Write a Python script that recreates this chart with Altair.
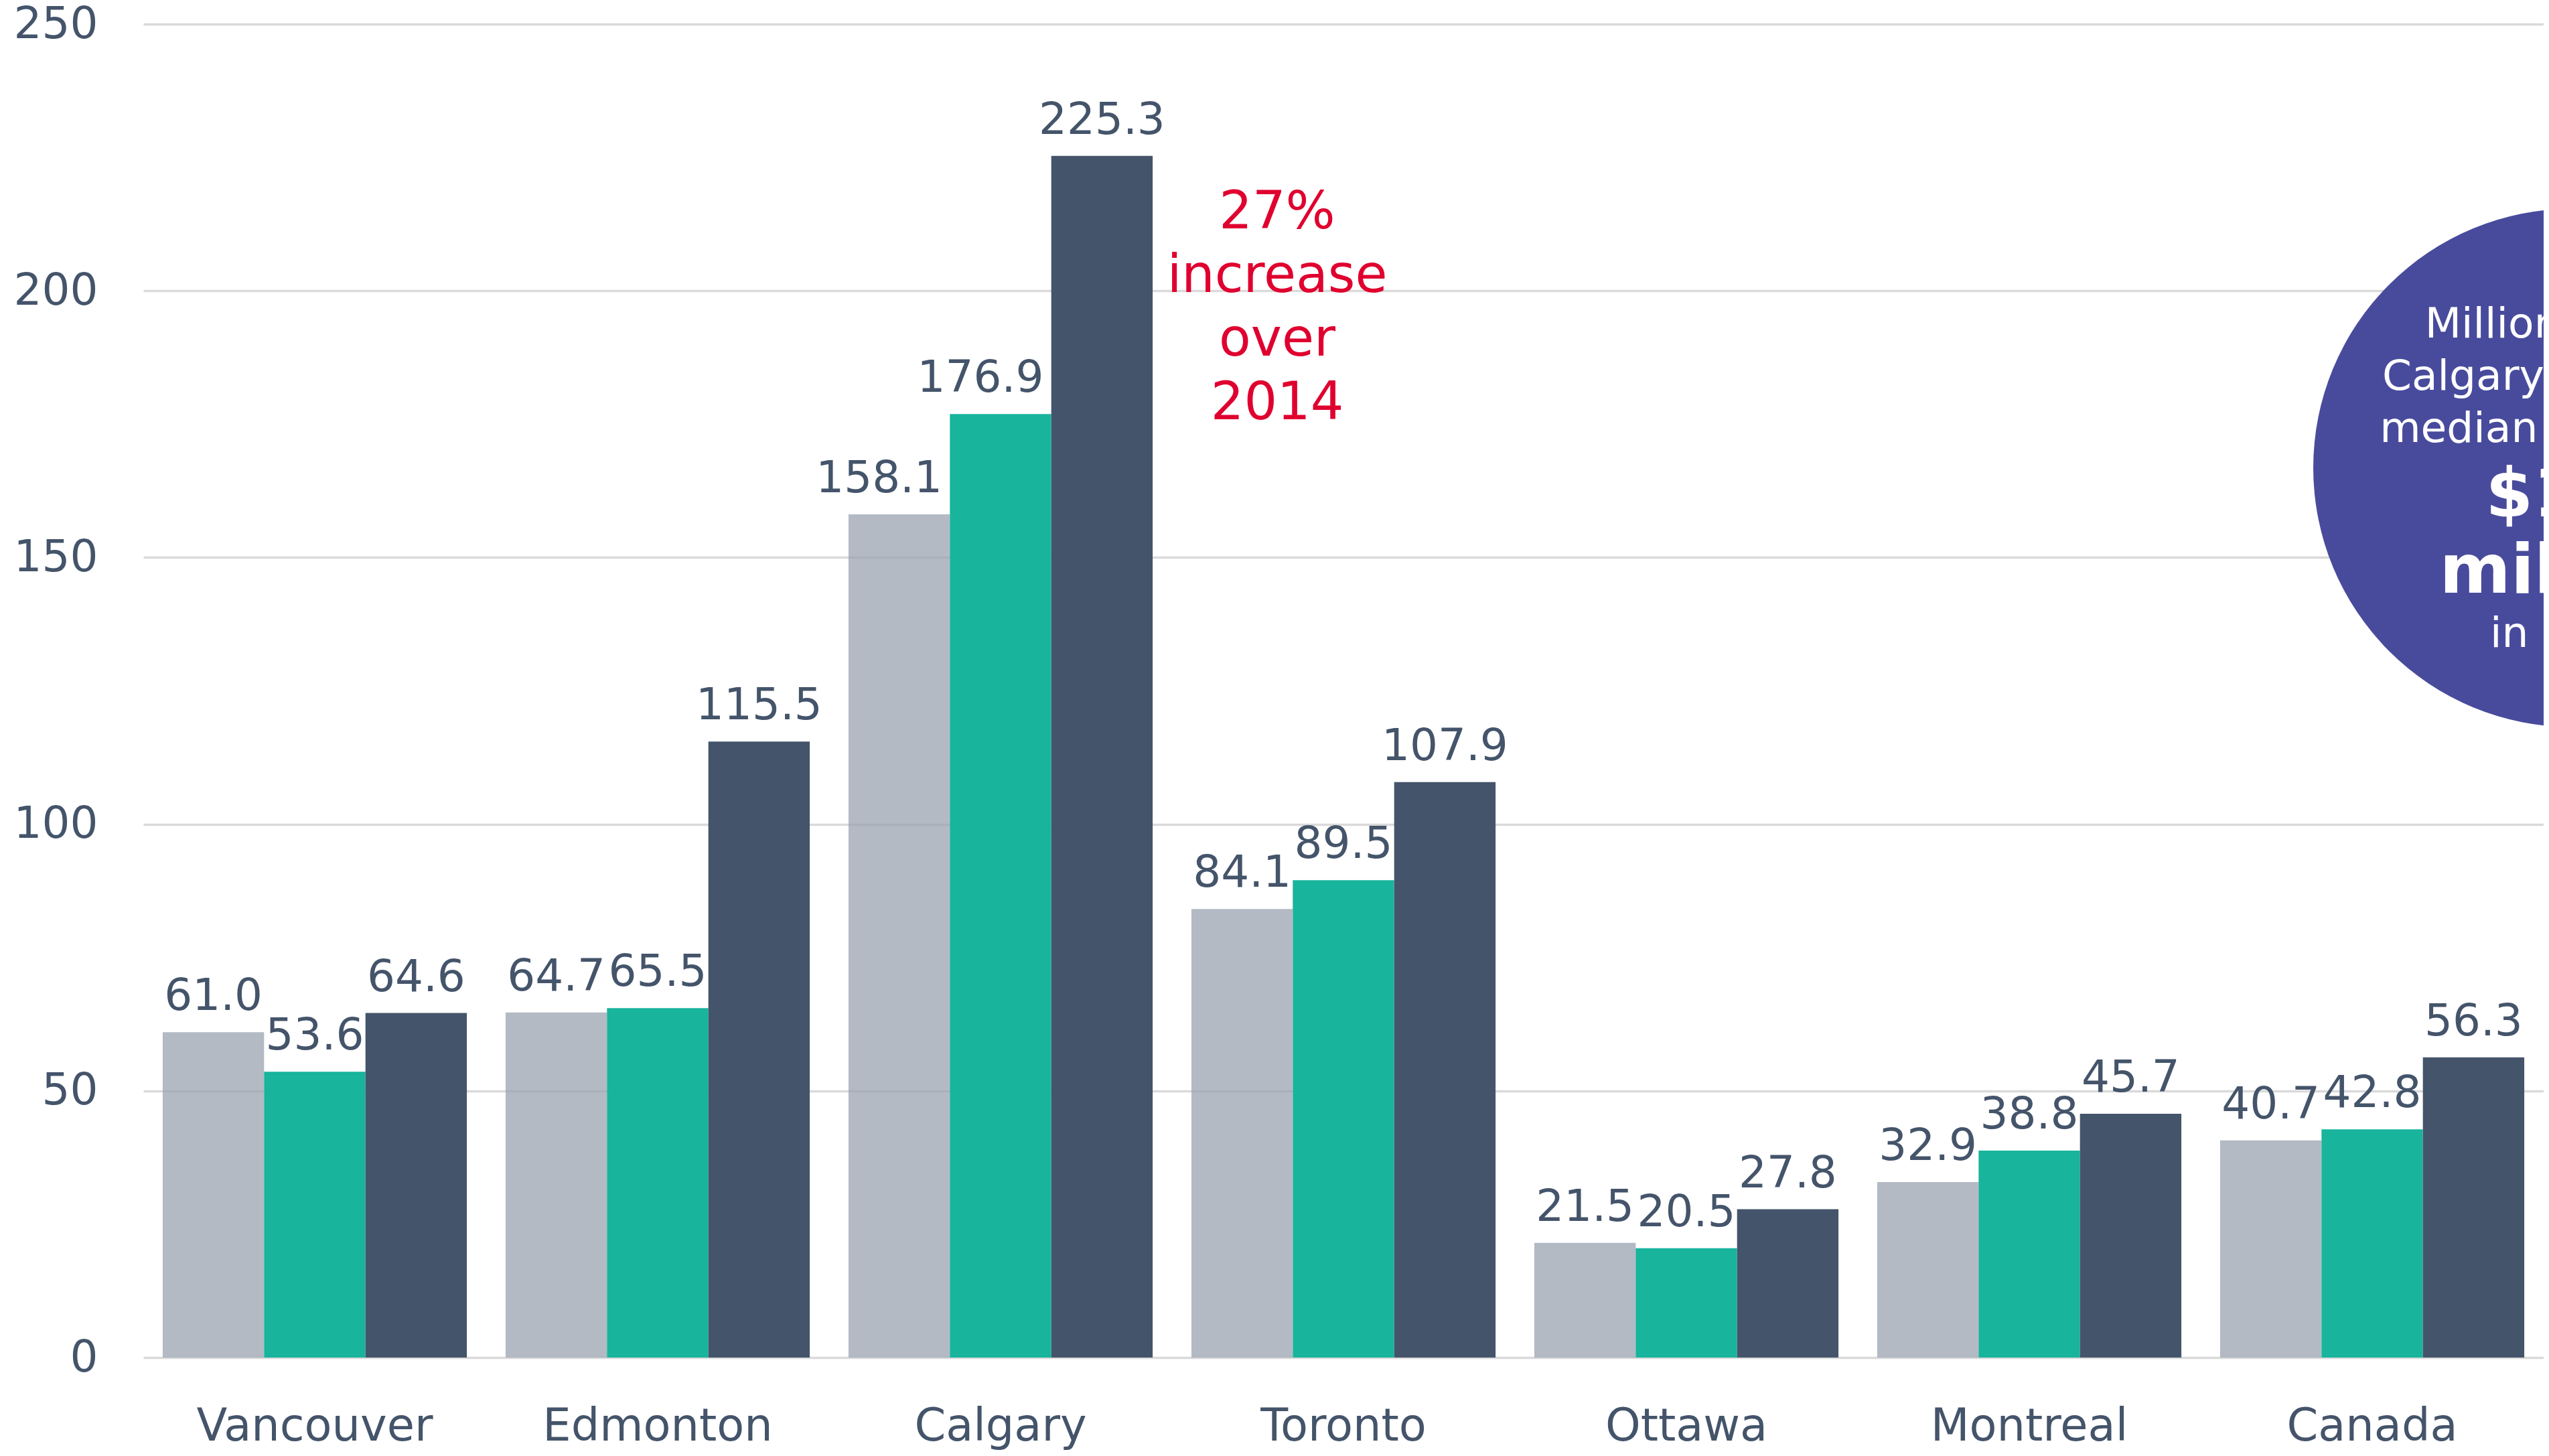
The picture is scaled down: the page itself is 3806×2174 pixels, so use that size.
import altair as alt
import pandas as pd

# ---- data ----
cities = ["Vancouver", "Edmonton", "Calgary", "Toronto", "Ottawa", "Montreal", "Canada"]
series = ["2013", "2014", "2015"]
v2013 = [61.0, 64.7, 158.1, 84.1, 21.5, 32.9, 40.7]
v2014 = [53.6, 65.5, 176.9, 89.5, 20.5, 38.8, 42.8]
v2015 = [64.6, 115.5, 225.3, 107.9, 27.8, 45.7, 56.3]
y_ticks = [0, 50, 100, 150, 200, 250]

colors = ["#9aa3b0", "#18b49c", "#44546a"]

note_lines = ["27%", "increase", "over", "2014"]
circle_small = ["Millionaires in", "Calgary earning a", "median income of", "in 2015"]
circle_big = ["$1.1", "million"]

# ---- tables ----
rows = []
for vals, s in zip([v2013, v2014, v2015], series):
    for c, v in zip(cities, vals):
        rows.append({"city": c, "series": s, "value": v})
df = pd.DataFrame(rows)

FONT = "DejaVu Sans"
LABEL = "#44546a"

x = alt.X("city:N", sort=cities,
          scale=alt.Scale(paddingInner=0.113, paddingOuter=0.0565),
          axis=alt.Axis(title=None, labelFontSize=67, labelFont=FONT, labelColor=LABEL,
                        labelPadding=70, ticks=False, domain=False, grid=False,
                        labelLimit=1000, labelAngle=0))
y = alt.Y("value:Q", scale=alt.Scale(domain=[0, 250], nice=False),
          axis=alt.Axis(title=None, values=y_ticks, grid=True, gridColor="#dadada",
                        gridWidth=3.5, domain=False, ticks=False, labelPadding=68,
                        labelFontSize=66, labelFont=FONT, labelColor=LABEL))

xoff = alt.XOffset("series:N", sort=series, scale=alt.Scale(paddingInner=0, paddingOuter=0))
base = alt.Chart(df).encode(x=x, xOffset=xoff, y=y)

bars = base.mark_bar().encode(
    color=alt.Color("series:N", scale=alt.Scale(domain=series, range=colors), legend=None),
    opacity=alt.condition(alt.datum.series == "2013", alt.value(0.75), alt.value(1.0)),
)

is_crowded = (alt.datum.city == "Calgary") & (alt.datum.series != "2015")
labels = base.mark_text(fontSize=66, font=FONT, color=LABEL, baseline="alphabetic", dy=-33).encode(
    text=alt.Text("value:Q", format=".1f")
).transform_filter(~is_crowded)
labels_shift = base.mark_text(fontSize=66, font=FONT, color=LABEL, baseline="alphabetic",
                              dy=-33, dx=-30).encode(
    text=alt.Text("value:Q", format=".1f")
).transform_filter(is_crowded)

note_df = pd.DataFrame({"city": ["Calgary"], "value": [214.6]})
note = alt.Chart(note_df).mark_text(
    text=note_lines, fontSize=78, font=FONT, color="#e0002f", lineHeight=95,
    baseline="middle", align="center", dx=413
).encode(x=alt.X("city:N", sort=cities), y=alt.Y("value:Q"))

circ_df = pd.DataFrame({"city": ["Canada"], "value": [166.8]})
circle = alt.Chart(circ_df).mark_point(
    filled=True, shape="circle", size=774 * 774, color="#484b9c", opacity=1,
    xOffset=299, clip=True
).encode(x=alt.X("city:N", sort=cities), y=alt.Y("value:Q"))

small_df = pd.DataFrame({"city": ["Canada"] * 4, "value": [193.6, 183.8, 174.0, 135.6],
                         "t": circle_small})
circ_small = alt.Chart(small_df).mark_text(
    fontSize=63, font=FONT, color="white", baseline="middle", align="center", dx=295, clip=True
).encode(x=alt.X("city:N", sort=cities), y=alt.Y("value:Q"), text="t:N")

big_df = pd.DataFrame({"city": ["Canada"] * 2, "value": [161.6, 147.3], "t": circle_big})
circ_big = alt.Chart(big_df).mark_text(
    fontSize=102, font=FONT, fontWeight="bold", color="white", baseline="middle",
    align="center", dx=295, clip=True
).encode(x=alt.X("city:N", sort=cities), y=alt.Y("value:Q"), text="t:N")

chart = alt.layer(bars, labels, labels_shift, note, circle, circ_small, circ_big).properties(
    width=3584, height=1991,
    autosize=alt.AutoSizeParams(type="none"),
    padding={"left": 206, "top": 28, "right": 0, "bottom": 141},
    background="white",
).configure_view(stroke=None)

chart.save("out.html", embed_options={"renderer": "svg", "actions": False})
